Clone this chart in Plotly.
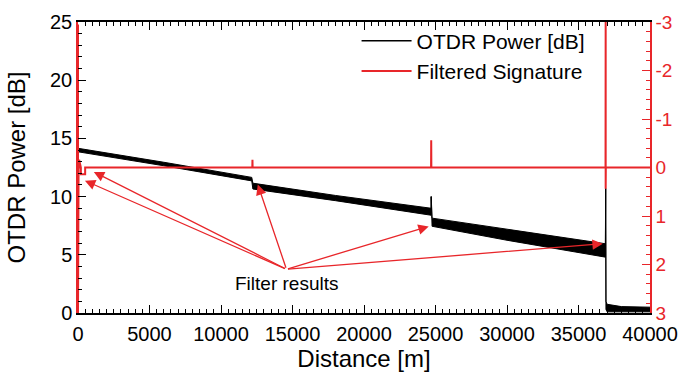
import plotly.graph_objects as go

# ---- data ----
# OTDR trace: envelope of the noisy trace (upper / lower) at key distances
otdr_x     = [0,     6000,  12150, 12200, 12230, 18000, 24650, 24690, 24700, 24710, 24760, 30000, 36850, 36880, 36900, 36920, 37000, 38000, 40000]
otdr_upper = [14.15, 12.95, 11.65, 11.3,  11.15, 10.1,  8.95,  9.0,   10.0,  8.2,   8.15,  7.2,   6.0,   5.95,  10.7,  1.0,   0.75,  0.55,  0.5]
otdr_lower = [13.85, 12.65, 11.35, 11.0,  10.65, 9.65,  8.45,  8.4,   10.0,  7.6,   7.45,  6.25,  4.8,   4.8,   10.7,  0.3,   0.1,   0.1,   0.1]

# Filtered signature (right axis, reversed)
sig_x = [0,    0,    40,  80,  80,   200, 200,  500,  500, 12190, 12200, 12210, 24690, 24700, 24710, 36890, 36900, 36900, 36910, 40000]
sig_y = [-2.95, 3.0, 0.0, 0.0, -0.16, 0.0, 0.14, 0.14, 0.0, 0.0,   -0.16, 0.0,   0.0,   -0.56, 0.0,   0.0,   -3.0,  0.44,  0.0,   0.0]

# arrows: (tail at text) -> (head) in data coords
arrow_tail = (14577, 3.76)
arrow_heads = [(484, 11.37), (1105, 12.12), (12573, 11.04), (24525, 7.44), (36700, 5.95)]

x_ticks = [0, 5000, 10000, 15000, 20000, 25000, 30000, 35000, 40000]
y_ticks = [0, 5, 10, 15, 20, 25]
y2_ticks = [-3, -2, -1, 0, 1, 2, 3]
y2_labels = ["-3", "-2", "-1", "0", "1", "2", "3"]

FONT = "Liberation Sans, Arial, sans-serif"
RED = "#e8262a"

fig = go.Figure()
fig.add_trace(go.Scatter(x=otdr_x, y=otdr_lower, mode="lines", line=dict(color="black", width=1),
                         showlegend=False, hoverinfo="skip"))
fig.add_trace(go.Scatter(x=otdr_x, y=otdr_upper, mode="lines", line=dict(color="black", width=1),
                         fill="tonexty", fillcolor="black", showlegend=False, hoverinfo="skip"))
fig.add_trace(go.Scatter(x=[None], y=[None], mode="lines", line=dict(color="black", width=1.5),
                         name="OTDR Power [dB]", legendrank=1))
fig.add_trace(go.Scatter(x=sig_x, y=sig_y, mode="lines", line=dict(color=RED, width=2),
                         name="Filtered Signature", yaxis="y2", legendrank=2))

for hx, hy in arrow_heads:
    fig.add_annotation(x=hx, y=hy, ax=arrow_tail[0], ay=arrow_tail[1], xref="x", yref="y",
                       axref="x", ayref="y", showarrow=True, arrowhead=2, arrowsize=1.6,
                       arrowwidth=1.3, arrowcolor=RED, text="")
fig.add_annotation(x=arrow_tail[0], y=arrow_tail[1], xref="x", yref="y", text="Filter results",
                   showarrow=False, yanchor="top", yshift=-2, font=dict(size=19, color="black", family=FONT))

fig.update_layout(
    width=690, height=380,
    margin=dict(l=78, r=33, t=14, b=67),
    paper_bgcolor="white", plot_bgcolor="white",
    font=dict(family=FONT, size=20, color="black"),
    showlegend=True,
    legend=dict(x=0.487, y=1.005, xanchor="left", yanchor="top", bgcolor="rgba(0,0,0,0)",
                font=dict(size=21), traceorder="normal", itemwidth=50),
    xaxis=dict(range=[0, 40000], tickvals=x_ticks, tickformat="d", ticks="inside", ticklen=8,
               tickcolor="black", showline=True, linecolor="black", linewidth=1.5, mirror="ticks",
               showgrid=False, zeroline=False, ticklabelstandoff=2,
               minor=dict(dtick=500, ticks="inside", ticklen=4, tickcolor="black", showgrid=False),
               title=dict(text="Distance [m]", standoff=4, font=dict(size=24)),
               tickfont=dict(size=20)),
    yaxis=dict(range=[0, 25], tickvals=y_ticks, ticks="inside", ticklen=8, tickcolor="black",
               showline=True, linecolor=RED, linewidth=1.5, showgrid=False, zeroline=False,
               automargin=False,
               minor=dict(dtick=1, ticks="inside", ticklen=4, tickcolor="black", showgrid=False),
               title=dict(text="OTDR Power [dB]", standoff=18, font=dict(size=24)),
               tickfont=dict(size=20)),
    yaxis2=dict(overlaying="y", side="right", range=[3, -3], tickvals=y2_ticks, ticktext=y2_labels,
                ticks="inside", ticklen=8, tickcolor=RED, showline=True, linecolor=RED, linewidth=1.5,
                showgrid=False, zeroline=False,
                minor=dict(dtick=0.2, ticks="inside", ticklen=4, tickcolor=RED, showgrid=False),
                tickfont=dict(size=19, color=RED)),
)

fig.write_html("out.html")
